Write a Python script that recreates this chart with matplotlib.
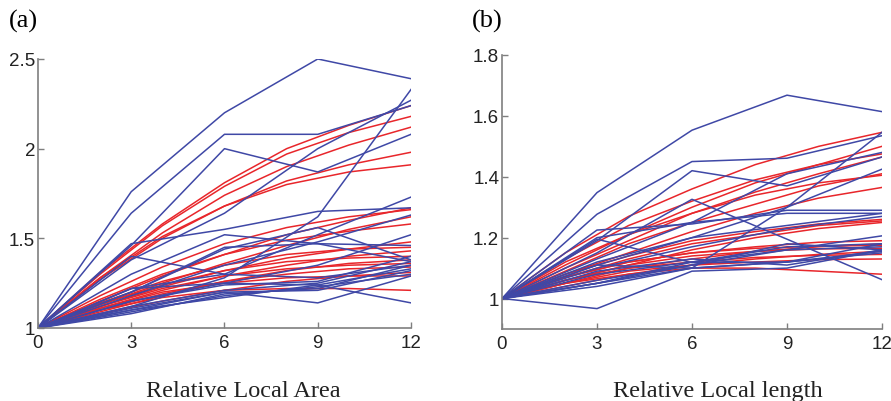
import matplotlib.pyplot as plt
import numpy as np

# time points (months) for the measured curves and for the fitted curves
months = [0, 3, 6, 9, 12]
fit_months = [0, 2, 4, 6, 8, 10, 12]

# (a) relative local area, measured (blue)
area_measured = [
    [1, 1.76, 2.20, 2.50, 2.39],
    [1, 1.64, 2.08, 2.08, 2.24],
    [1, 1.46, 2.00, 1.87, 2.08],
    [1, 1.38, 1.64, 2.00, 2.27],
    [1, 1.12, 1.28, 1.62, 2.33],
    [1, 1.47, 1.55, 1.65, 1.67],
    [1, 1.40, 1.30, 1.28, 1.35],
    [1, 1.30, 1.52, 1.47, 1.37],
    [1, 1.20, 1.44, 1.56, 1.38],
    [1, 1.22, 1.30, 1.52, 1.73],
    [1, 1.18, 1.35, 1.48, 1.63],
    [1, 1.15, 1.25, 1.35, 1.52],
    [1, 1.20, 1.45, 1.47, 1.46],
    [1, 1.10, 1.20, 1.14, 1.29],
    [1, 1.22, 1.25, 1.24, 1.14],
    [1, 1.08, 1.19, 1.22, 1.35],
    [1, 1.10, 1.17, 1.24, 1.33],
    [1, 1.12, 1.21, 1.25, 1.37],
    [1, 1.09, 1.18, 1.23, 1.30],
    [1, 1.15, 1.24, 1.26, 1.40],
    [1, 1.11, 1.20, 1.21, 1.32],
]

# (a) relative local area, fitted (red)
area_fitted = [
    [1, 1.31, 1.58, 1.81, 2.00, 2.13, 2.24],
    [1, 1.30, 1.57, 1.79, 1.97, 2.09, 2.18],
    [1, 1.28, 1.53, 1.74, 1.90, 2.02, 2.12],
    [1, 1.27, 1.50, 1.68, 1.82, 1.91, 1.98],
    [1, 1.28, 1.51, 1.68, 1.80, 1.87, 1.91],
    [1, 1.15, 1.29, 1.41, 1.52, 1.60, 1.67],
    [1, 1.18, 1.34, 1.47, 1.56, 1.62, 1.66],
    [1, 1.13, 1.25, 1.36, 1.46, 1.55, 1.62],
    [1, 1.16, 1.30, 1.41, 1.49, 1.54, 1.58],
    [1, 1.12, 1.23, 1.32, 1.39, 1.44, 1.48],
    [1, 1.14, 1.26, 1.35, 1.41, 1.44, 1.45],
    [1, 1.11, 1.21, 1.29, 1.35, 1.40, 1.43],
    [1, 1.13, 1.24, 1.32, 1.37, 1.39, 1.40],
    [1, 1.09, 1.18, 1.26, 1.32, 1.36, 1.38],
    [1, 1.12, 1.22, 1.29, 1.33, 1.35, 1.36],
    [1, 1.10, 1.19, 1.26, 1.30, 1.33, 1.34],
    [1, 1.08, 1.15, 1.21, 1.26, 1.29, 1.31],
    [1, 1.11, 1.20, 1.25, 1.28, 1.29, 1.29],
    [1, 1.10, 1.17, 1.21, 1.22, 1.22, 1.21],
]

# (b) relative local length, measured (blue)
length_measured = [
    [1, 1.348, 1.553, 1.668, 1.614],
    [1, 1.277, 1.450, 1.461, 1.535],
    [1, 1.19, 1.420, 1.370, 1.465],
    [1, 1.15, 1.326, 1.195, 1.062],
    [1, 1.225, 1.245, 1.290, 1.290],
    [1, 1.195, 1.118, 1.120, 1.180],
    [1, 0.967, 1.090, 1.100, 1.160],
    [1, 1.05, 1.100, 1.300, 1.546],
    [1, 1.13, 1.250, 1.410, 1.480],
    [1, 1.12, 1.200, 1.300, 1.425],
    [1, 1.20, 1.250, 1.280, 1.280],
    [1, 1.11, 1.200, 1.240, 1.280],
    [1, 1.10, 1.170, 1.230, 1.270],
    [1, 1.05, 1.120, 1.160, 1.206],
    [1, 1.04, 1.100, 1.120, 1.150],
    [1, 1.06, 1.110, 1.160, 1.170],
    [1, 1.08, 1.120, 1.170, 1.180],
    [1, 1.09, 1.130, 1.110, 1.160],
    [1, 1.05, 1.110, 1.180, 1.160],
    [1, 1.11, 1.100, 1.120, 1.155],
]

# (b) relative local length, fitted (red)
length_fitted = [
    [1, 1.15, 1.27, 1.36, 1.44, 1.50, 1.546],
    [1, 1.11, 1.21, 1.30, 1.38, 1.44, 1.50],
    [1, 1.13, 1.24, 1.32, 1.39, 1.44, 1.475],
    [1, 1.10, 1.19, 1.28, 1.35, 1.41, 1.465],
    [1, 1.09, 1.18, 1.25, 1.31, 1.37, 1.41],
    [1, 1.12, 1.21, 1.28, 1.34, 1.38, 1.405],
    [1, 1.08, 1.15, 1.22, 1.28, 1.33, 1.365],
    [1, 1.07, 1.13, 1.18, 1.21, 1.24, 1.255],
    [1, 1.06, 1.11, 1.16, 1.20, 1.23, 1.25],
    [1, 1.08, 1.14, 1.19, 1.22, 1.245, 1.26],
    [1, 1.07, 1.12, 1.15, 1.17, 1.185, 1.19],
    [1, 1.05, 1.10, 1.13, 1.155, 1.17, 1.18],
    [1, 1.06, 1.11, 1.14, 1.155, 1.163, 1.165],
    [1, 1.07, 1.12, 1.15, 1.165, 1.172, 1.175],
    [1, 1.04, 1.08, 1.11, 1.13, 1.145, 1.155],
    [1, 1.06, 1.10, 1.12, 1.135, 1.142, 1.145],
    [1, 1.05, 1.09, 1.11, 1.12, 1.128, 1.13],
    [1, 1.05, 1.08, 1.10, 1.10, 1.09, 1.08],
]

BLUE = '#3f48a6'
RED = '#e8262b'
GREY = '#7f7f7f'


def style_axes(ax, ylim, yticks, yticklabels):
    ax.set_xlim(0, 12)
    ax.set_ylim(*ylim)
    ax.set_xticks(months)
    ax.set_yticks(yticks)
    ax.set_yticklabels(yticklabels)
    for side in ('top', 'right'):
        ax.spines[side].set_visible(False)
    for side in ('left', 'bottom'):
        ax.spines[side].set_color(GREY)
        ax.spines[side].set_linewidth(1.2)
    ax.tick_params(direction='in', length=4, width=1, color=GREY,
                   labelsize=13.5, labelcolor='#222222')
    ax.tick_params(axis='y', pad=2)
    ax.tick_params(axis='x', pad=4)
    ax.patch.set_alpha(0)


fig = plt.figure(figsize=(8.91, 4.02), dpi=100)
plt.rcParams['font.family'] = ['Liberation Sans', 'DejaVu Sans']

ax1 = fig.add_axes([0.0426, 0.1816, 0.4187, 0.6692])
for ys in area_fitted:
    ax1.plot(fit_months, ys, color=RED, lw=1.1)
for ys in area_measured:
    ax1.plot(months, ys, color=BLUE, lw=1.1)
style_axes(ax1, (1, 2.5), [1, 1.5, 2, 2.5], ['1', '1.5', '2', '2.5'])

ax2 = fig.add_axes([0.5634, 0.1791, 0.4265, 0.6816])
for ys in length_fitted:
    ax2.plot(fit_months, ys, color=RED, lw=1.1)
for ys in length_measured:
    ax2.plot(months, ys, color=BLUE, lw=1.1)
style_axes(ax2, (0.9, 1.8), [1, 1.2, 1.4, 1.6, 1.8], ['1', '1.2', '1.4', '1.6', '1.8'])

serif = ['Liberation Serif', 'DejaVu Serif']
fig.text(0.010, 0.975, '(a)', family=serif, fontsize=19, va='top', ha='left')
fig.text(0.530, 0.975, '(b)', family=serif, fontsize=19, va='top', ha='left')
fig.text(0.273, 0.012, 'Relative Local Area', family=serif, fontsize=17.5,
         ha='center', va='baseline', color='#222222')
fig.text(0.806, 0.012, 'Relative Local length', family=serif, fontsize=17.5,
         ha='center', va='baseline', color='#222222')

fig.savefig('out.png', dpi=100)
